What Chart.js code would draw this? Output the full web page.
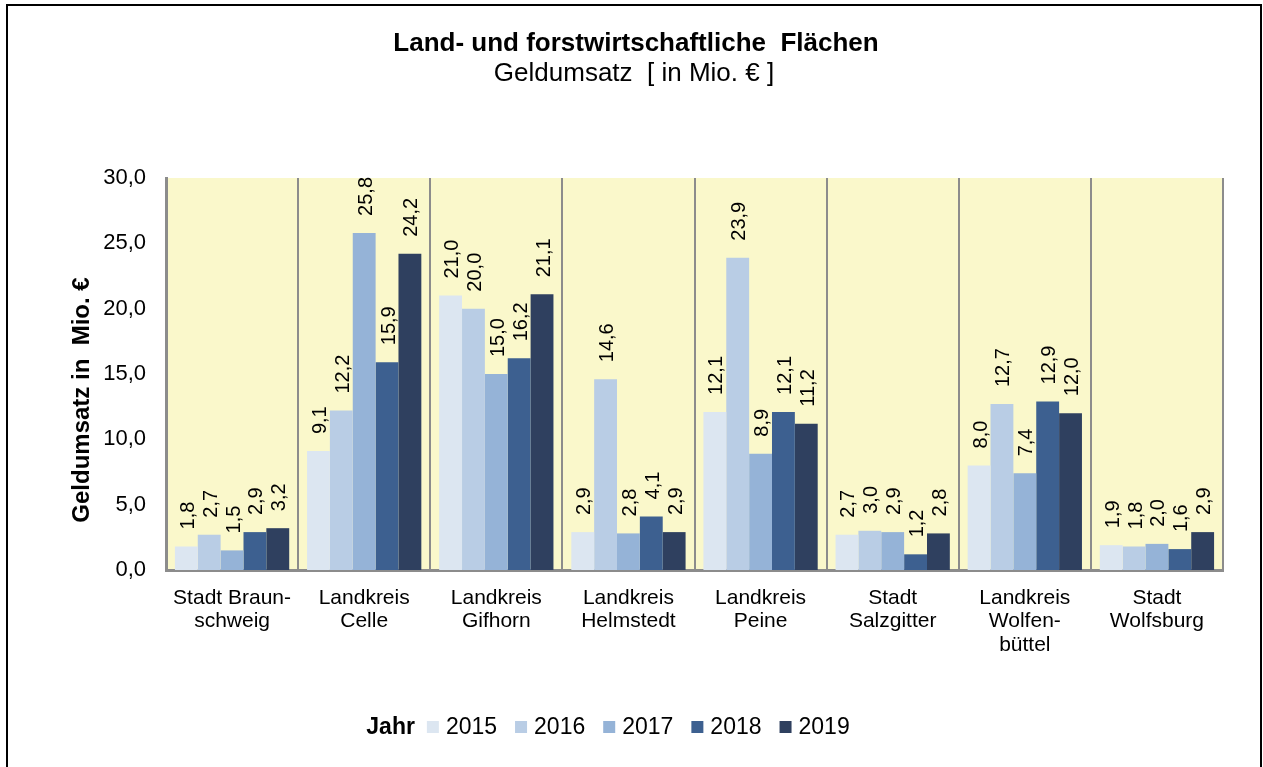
<!DOCTYPE html>
<html>
<head>
<meta charset="utf-8">
<script src="https://cdn.jsdelivr.net/npm/chart.js@4"></script>
<style>
  html, body { margin: 0; padding: 0; background: #fff; overflow: hidden; }
  #wrap { position: relative; width: 1263px; height: 767px; }
  #frame {
    position: absolute; left: 6px; top: 4px; width: 1256px; height: 800px;
    box-sizing: border-box; border: 2px solid #000; border-bottom: none;
    pointer-events: none;
  }
</style>
</head>
<body>
<div id="wrap">
  <canvas id="chart"></canvas>
  <div id="frame"></div>
</div>
<script>
const categories = [
  ["Stadt Braun-", "schweig"],
  ["Landkreis", "Celle"],
  ["Landkreis", "Gifhorn"],
  ["Landkreis", "Helmstedt"],
  ["Landkreis", "Peine"],
  ["Stadt", "Salzgitter"],
  ["Landkreis", "Wolfen-", "büttel"],
  ["Stadt", "Wolfsburg"],
];
const years = ["2015", "2016", "2017", "2018", "2019"];
const values2015 = [1.8, 9.1, 21.0, 2.9, 12.1, 2.7, 8.0, 1.9];
const values2016 = [2.7, 12.2, 20.0, 14.6, 23.9, 3.0, 12.7, 1.8];
const values2017 = [1.5, 25.8, 15.0, 2.8, 8.9, 2.9, 7.4, 2.0];
const values2018 = [2.9, 15.9, 16.2, 4.1, 12.1, 1.2, 12.9, 1.6];
const values2019 = [3.2, 24.2, 21.1, 2.9, 11.2, 2.8, 12.0, 2.9];
const colors = ["#dce6f1", "#b9cde5", "#95b3d7", "#3d6090", "#2f405f"];

const FONT = '"Liberation Sans", Arial, sans-serif';
const fmt = (v) => v.toFixed(1).replace(".", ",");

// plot background, value labels, titles and legend
const decorations = {
  id: "decorations",
  beforeDraw(chart) {
    const { ctx, chartArea: a } = chart;
    ctx.save();
    ctx.fillStyle = "#faf8cb";
    ctx.fillRect(a.left, a.top, a.right - a.left, a.bottom - a.top);
    ctx.restore();
  },
  afterDatasetsDraw(chart) {
    const ctx = chart.ctx;
    ctx.save();
    ctx.fillStyle = "#000";
    ctx.font = "20px " + FONT;
    ctx.textAlign = "left";
    ctx.textBaseline = "middle";
    chart.data.datasets.forEach((ds, i) => {
      chart.getDatasetMeta(i).data.forEach((bar, j) => {
        ctx.save();
        ctx.translate(bar.x + 2, bar.y - 17);
        ctx.rotate(-Math.PI / 2);
        ctx.fillText(fmt(ds.data[j]), 0, 0);
        ctx.restore();
      });
    });
    ctx.restore();
  },
  afterDraw(chart) {
    const ctx = chart.ctx;
    ctx.save();
    ctx.fillStyle = "#000";
    ctx.textAlign = "center";
    ctx.textBaseline = "middle";
    ctx.font = "bold 26px " + FONT;
    ctx.fillText("Land- und forstwirtschaftliche  Flächen", 636, 44);
    ctx.font = "26px " + FONT;
    ctx.fillText("Geldumsatz  [ in Mio. € ]", 634, 74);

    // y axis title
    ctx.save();
    ctx.translate(82, 400);
    ctx.rotate(-Math.PI / 2);
    ctx.font = "bold 24px " + FONT;
    ctx.fillText("Geldumsatz in  Mio. €", 0, 0);
    ctx.restore();

    // legend: "Jahr" + boxes
    const y = 727;
    ctx.textAlign = "left";
    ctx.font = "bold 23px " + FONT;
    const titleW = ctx.measureText("Jahr").width;
    ctx.font = "23px " + FONT;
    const items = chart.data.datasets.map((ds) => ({
      label: ds.label,
      color: ds.backgroundColor,
      w: ctx.measureText(ds.label).width,
    }));
    let total = titleW + 12;
    items.forEach((it, k) => {
      total += 12 + 7 + it.w + (k < items.length - 1 ? 18 : 0);
    });
    let x = 608 - total / 2;
    ctx.font = "bold 23px " + FONT;
    ctx.fillText("Jahr", x, y + 1);
    x += titleW + 12;
    ctx.font = "23px " + FONT;
    items.forEach((it) => {
      ctx.fillStyle = it.color;
      ctx.fillRect(x, y - 6, 12, 12);
      x += 19;
      ctx.fillStyle = "#000";
      ctx.fillText(it.label, x, y + 1);
      x += it.w + 18;
    });
    ctx.restore();
  },
};

const seriesValues = [values2015, values2016, values2017, values2018, values2019];

const options = {
  responsive: true,
  maintainAspectRatio: false,
  animation: false,
  layout: {
    padding: { top: 178, right: 40, bottom: 97, left: 0 },
  },
  plugins: {
    legend: { display: false },
    tooltip: { enabled: false },
  },
  datasets: {
    bar: {
      categoryPercentage: 0.865,
      barPercentage: 1,
    },
  },
  scales: {
    x: {
      afterFit: (scale) => {
        scale.height = 100;
      },
      grid: {
        offset: true,
        color: "#8c8c8c",
        lineWidth: 2,
        drawTicks: false,
      },
      border: { color: "#8c8c8c", width: 3 },
      ticks: {
        padding: 17,
        maxRotation: 0,
        autoSkip: false,
        color: "#000",
        font: { family: FONT, size: 21, lineHeight: 1.1 },
      },
    },
    y: {
      min: 0,
      max: 30,
      afterFit: (scale) => {
        scale.width = 166;
      },
      grid: { display: false },
      border: { color: "#8c8c8c", width: 3 },
      ticks: {
        stepSize: 5,
        padding: 12,
        color: "#000",
        font: { family: FONT, size: 22 },
        callback: (v) => fmt(v),
      },
    },
  },
};

new Chart(document.getElementById("chart"), {
  type: "bar",
  data: {
    labels: categories,
    datasets: years.map((year, i) => ({
      label: year,
      data: seriesValues[i],
      backgroundColor: colors[i],
      borderWidth: 0,
    })),
  },
  options: options,
  plugins: [decorations],
});
</script>
</body>
</html>
